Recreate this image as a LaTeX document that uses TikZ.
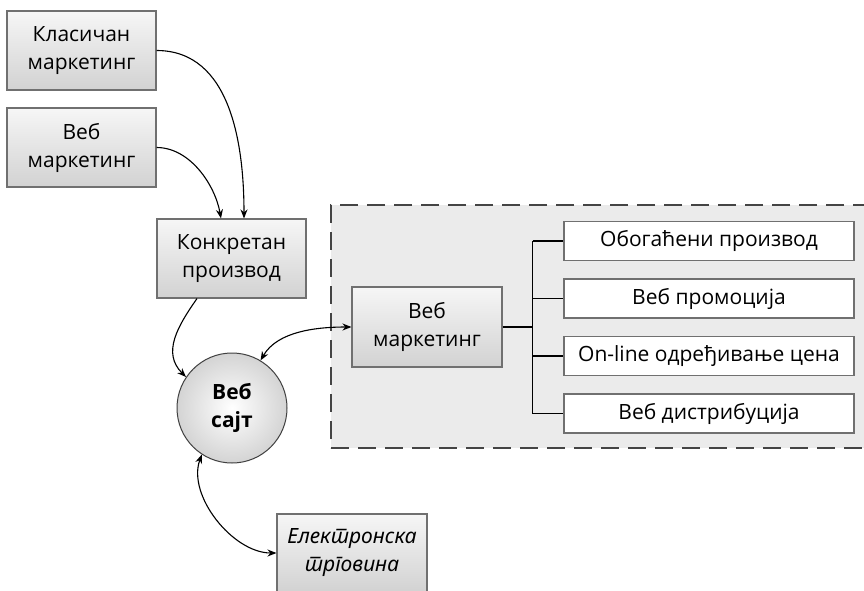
\documentclass[tikz,border=0pt]{standalone}
\usepackage{fontspec}
\setmainfont{Open Sans}
\newfontfamily\srfont[Script=Cyrillic,Language=Serbian]{Noto Sans}
\usetikzlibrary{arrows.meta,calc}
\definecolor{boxtop}{HTML}{F6F6F6}
\definecolor{boxbot}{HTML}{D2D2D2}
\definecolor{boxline}{HTML}{707070}
\definecolor{regfill}{HTML}{EBEBEB}
\definecolor{regline}{HTML}{444444}
\tikzset{
  graybox/.style={draw=boxline, line width=1.1pt, top color=boxtop, bottom color=boxbot,
    minimum width=149pt, minimum height=79pt, inner sep=0pt, align=center,
    font=\fontsize{21}{28}\selectfont},
  whitebox/.style={draw=boxline, line width=1.1pt, fill=white,
    minimum width=290pt, minimum height=39pt, inner sep=0pt,
    font=\fontsize{21}{26}\selectfont},
  regionbox/.style={draw=regline, fill=regfill, line width=1.6pt, dash pattern=on 18pt off 9pt,
    minimum width=540pt, minimum height=243pt, inner sep=0pt},
  ballnode/.style={circle, draw=black!75, line width=1pt, shading=radial,
    inner color=white, outer color=black!17, minimum size=110pt, inner sep=0pt,
    align=center, font=\bfseries\fontsize{21}{28}\selectfont},
  conn/.style={line width=1.1pt, -{Stealth[length=9pt,width=7pt]}},
  dconn/.style={line width=1.1pt, {Stealth[length=9pt,width=7pt]}-{Stealth[length=9pt,width=7pt]}},
  branch/.style={line width=1.1pt}
}
\begin{document}
\begin{tikzpicture}[x=1pt,y=1pt]
\useasboundingbox (0,0) rectangle (864,-591);
% dashed region
\node[regionbox] (grp) at (601,-326.5) {};
% left boxes
\node[graybox] (klas) at (81.5,-50.5) {Класичан\\маркетинг};
\node[graybox] (veb1) at (81.5,-147.5) {Веб\\маркетинг};
\node[graybox] (konk) at (231.5,-258.5) {Конкретан\\производ};
\node[ballnode] (sajt) at (232,-408) {Веб\\сајт};
\node[graybox, minimum width=150pt, minimum height=80pt] (veb2) at (427,-327) {Веб\\маркетинг};
\node[graybox, minimum width=150pt, minimum height=78pt, font=\srfont\itshape\fontsize{21}{28}\selectfont] (ecom) at (352,-553) {Електронска\\трговина};
% right boxes
\node[whitebox] (r1) at (709,-241) {Обогаћени производ};
\node[whitebox] (r2) at (709,-298.5) {Веб промоција};
\node[whitebox] (r3) at (709,-356) {On-line одређивање цена};
\node[whitebox] (r4) at (709,-413.5) {Веб дистрибуција};
% branch
\coordinate (br) at ($(veb2.east)+(30,0)$);
\draw[branch] (veb2.east) -- (br);
\draw[branch] (br |- r1.west) -- (br |- r4.west);
\foreach \r in {r1,r2,r3,r4} \draw[branch] (br |- \r.west) -- (\r.west);
% connectors
\draw[conn] (klas.east) to[out=0,in=90,looseness=1.0] ($(konk.north)+(12.5,0)$);
\draw[conn] (veb1.east) to[out=0,in=100,looseness=0.9] ($(konk.north)+(-10.5,0)$);
\draw[conn] ($(konk.south)+(-34.5,0)$) to[out=235,in=135,looseness=1.1] (sajt.146);
\draw[dconn] (sajt.59) to[out=60,in=180,looseness=0.9] (veb2.west);
\draw[dconn] (sajt.237) to[out=250,in=180,looseness=0.9] (ecom.west);
\end{tikzpicture}
\end{document}
